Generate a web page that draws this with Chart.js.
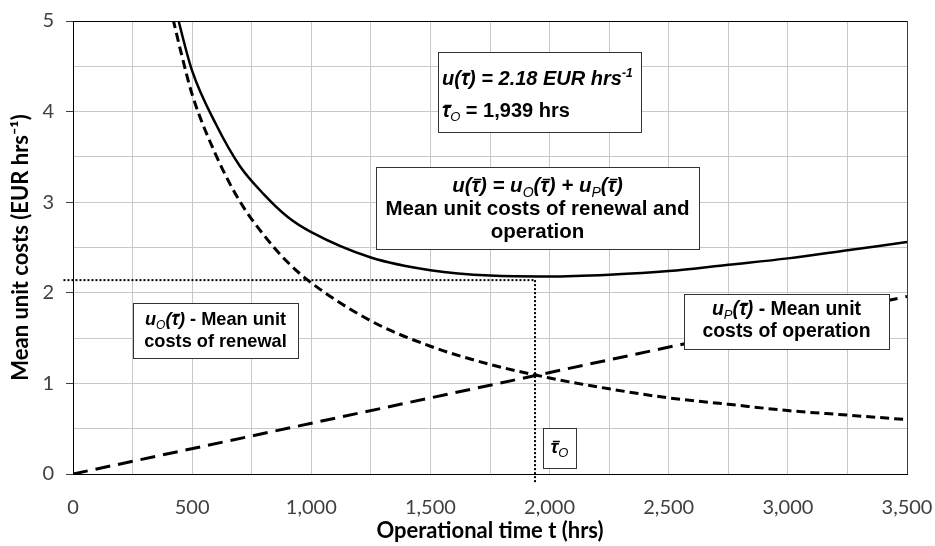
<!DOCTYPE html>
<html>
<head>
<meta charset="utf-8">
<script src="https://cdn.jsdelivr.net/npm/chart.js@4.4.1/dist/chart.umd.min.js"></script>
<style>
    body { margin: 0; background: #fff; }
</style>
</head>
<body>
<canvas id="chartCanvas" width="935" height="546"></canvas>
<script>
// operational time (hrs) for the curved series
const hours = [420, 450, 500, 600, 700, 800, 900, 1000, 1250, 1500, 1750, 2000, 2250, 2500, 2750, 3000, 3250, 3500];
// u(t) - total mean unit costs
const totalCost = [5.26, 4.93, 4.45, 3.86, 3.40, 3.09, 2.84, 2.67, 2.39, 2.25, 2.19, 2.18, 2.20, 2.24, 2.31, 2.38, 2.47, 2.56];
// uO(t) - renewal
const renewalCost = [5.02, 4.69, 4.19, 3.52, 3.01, 2.64, 2.34, 2.11, 1.69, 1.41, 1.21, 1.06, 0.94, 0.84, 0.77, 0.70, 0.65, 0.60];
// uP(t) - operation (straight line)
const operationHours = [0, 3500];
const operationCost = [0, 1.96];
// optimum marker lines
const optimumHours = 1939;
const optimumLevel = 2.14;

function toPoints(xs, ys) {
    return xs.map(function (x, i) {
        return { x: x, y: ys[i] };
    });
}

function withCommas(v) {
    return String(v).replace(/\B(?=(\d{3})+(?!\d))/g, ",");
}

function fontFor(style, size) {
    if (style === "b") return "bold " + size + "px 'Liberation Sans'";
    if (style === "bi") return "italic bold " + size + "px 'Liberation Sans'";
    if (style === "sub") return "italic " + Math.round(size * 0.66) + "px 'Liberation Sans'";
    return "italic bold " + Math.round(size * 0.6) + "px 'Liberation Sans'"; // sup
}

function shiftFor(style, size) {
    if (style === "sub") return size * 0.22;
    if (style === "sup") return -size * 0.4;
    return 0;
}

// parts: [text, style, overbar]
function drawRich(ctx, parts, x, y, align, size) {
    let w = 0;
    parts.forEach(function (p) {
        ctx.font = fontFor(p[1], size);
        w += ctx.measureText(p[0]).width;
    });
    let cx = align === "center" ? x - w / 2 : x;
    parts.forEach(function (p) {
        ctx.font = fontFor(p[1], size);
        const pw = ctx.measureText(p[0]).width;
        ctx.fillText(p[0], cx, y + shiftFor(p[1], size));
        if (p[2]) {
            const by = Math.round(y - size * 0.62) + 0.5;
            ctx.beginPath();
            ctx.lineWidth = 1.5;
            ctx.strokeStyle = "#000";
            ctx.moveTo(cx + size * 0.12, by);
            ctx.lineTo(cx + pw + size * 0.08, by);
            ctx.stroke();
        }
        cx += pw;
    });
}

const T = ["\u03C4", "bi", true];

// text boxes on the chart
const boxes = [
    { x: 438, y: 52, w: 203, h: 80, size: 20, align: "left", tx: 442, lines: [
        [85, [["u(", "bi"], T, [") = 2.18 EUR hrs", "bi"], ["-1", "sup"]]],
        [117, [T, ["O", "sub"], [" = 1,939 hrs", "b"]]]
    ] },
    { x: 376, y: 167, w: 323, h: 82, size: 20.5, align: "center", tx: 537.5, lines: [
        [192, [["u(", "bi"], T, [") = u", "bi"], ["O", "sub"], ["(", "bi"], T, [") + u", "bi"], ["P", "sub"], ["(", "bi"], T, [")", "bi"]]],
        [215, [["Mean unit costs of renewal and", "b"]]],
        [238, [["operation", "b"]]]
    ] },
    { x: 133, y: 303, w: 165, h: 55, size: 18.2, align: "center", tx: 215.5, lines: [
        [325, [["u", "bi"], ["O", "sub"], ["(", "bi"], T, [")", "bi"], [" - Mean unit", "b"]]],
        [347, [["costs of renewal", "b"]]]
    ] },
    { x: 684, y: 294, w: 205, h: 55, size: 19.4, align: "center", tx: 786.5, lines: [
        [315, [["u", "bi"], ["P", "sub"], ["(", "bi"], T, [")", "bi"], [" - Mean unit", "b"]]],
        [337, [["costs of operation", "b"]]]
    ] },
    { x: 543, y: 428, w: 33, h: 40, size: 19, align: "center", tx: 559.5, lines: [
        [453, [T, ["O", "sub"]]]
    ] }
];

const boxPlugin = {
    id: "boxes",
    afterDatasetsDraw: function (chart) {
        const ctx = chart.ctx;
        ctx.save();
        boxes.forEach(function (b) {
            ctx.fillStyle = "#fff";
            ctx.fillRect(b.x, b.y, b.w, b.h);
            ctx.strokeStyle = "#333";
            ctx.lineWidth = 1;
            ctx.strokeRect(b.x + 0.5, b.y + 0.5, b.w, b.h);
            ctx.fillStyle = "#000";
            ctx.textBaseline = "alphabetic";
            ctx.textAlign = "left";
            b.lines.forEach(function (l) {
                drawRich(ctx, l[1], b.tx, l[0], b.align, b.size);
            });
        });
        ctx.restore();
    }
};

const tickFont = { family: "Lato", size: 20 };
const titleFont = { family: "Lato", size: 22, weight: "bold" };

const ctx = document.getElementById("chartCanvas").getContext("2d");

const chart = new Chart(ctx, {
    type: "line",
    data: {
        datasets: [{
            label: "u",
            data: toPoints(hours, totalCost),
            borderColor: "#000",
            borderWidth: 2.5,
            pointRadius: 0,
            cubicInterpolationMode: "monotone"
        }, {
            label: "uO",
            data: toPoints(hours, renewalCost),
            borderColor: "#000",
            borderWidth: 3,
            borderDash: [9, 5],
            pointRadius: 0,
            cubicInterpolationMode: "monotone"
        }, {
            label: "uP",
            data: toPoints(operationHours, operationCost),
            borderColor: "#000",
            borderWidth: 3,
            borderDash: [15, 8],
            pointRadius: 0
        }, {
            label: "level",
            data: [{ x: -40, y: optimumLevel }, { x: optimumHours, y: optimumLevel }],
            borderColor: "#000",
            borderWidth: 2,
            borderDash: [2, 2],
            pointRadius: 0,
            clip: false
        }, {
            label: "optimum",
            data: [{ x: optimumHours, y: optimumLevel }, { x: optimumHours, y: -0.1 }],
            borderColor: "#000",
            borderWidth: 2,
            borderDash: [2, 2],
            pointRadius: 0,
            clip: false
        }]
    },
    options: {
        responsive: false,
        animation: false,
        layout: { padding: { left: 0, right: 28, top: 21, bottom: 0 } },
        plugins: {
            legend: { display: false },
            tooltip: { enabled: false }
        },
        scales: {
            x: {
                type: "linear",
                min: 0,
                max: 3500,
                ticks: {
                    stepSize: 250,
                    autoSkip: false,
                    maxRotation: 0,
                    color: "#404040",
                    font: tickFont,
                    padding: 22,
                    callback: function (v) {
                        return v % 500 === 0 ? withCommas(v) : "";
                    }
                },
                grid: {
                    drawTicks: false,
                    color: function (c) {
                        return c.tick && c.tick.value === 3500 ? "#404040" : "#c8c8c8";
                    }
                },
                border: { color: "#000", width: 1 },
                title: {
                    display: true,
                    text: "Operational time t (hrs)",
                    color: "#000",
                    font: titleFont,
                    padding: { top: 0, bottom: 2 }
                },
                afterFit: function (s) {
                    s.height = 72;
                    s.paddingLeft = 0;
                    s.paddingRight = 0;
                }
            },
            y: {
                min: 0,
                max: 5,
                ticks: {
                    stepSize: 0.5,
                    autoSkip: false,
                    color: "#404040",
                    font: tickFont,
                    padding: 12,
                    callback: function (v) {
                        return Number.isInteger(v) ? v : "";
                    }
                },
                grid: {
                    tickLength: 7,
                    color: function (c) {
                        return c.tick && c.tick.value === 5 ? "#000" : "#c8c8c8";
                    },
                    tickColor: function (c) {
                        return c.tick && Number.isInteger(c.tick.value) ? "#404040" : "rgba(0,0,0,0)";
                    }
                },
                border: { color: "#000", width: 1 },
                title: {
                    display: true,
                    text: "Mean unit costs (EUR hrs\u207B\u00B9)",
                    color: "#000",
                    font: titleFont,
                    padding: { top: 8, bottom: 0 }
                },
                afterFit: function (s) {
                    s.width = 73;
                    s.paddingTop = 0;
                    s.paddingBottom = 0;
                }
            }
        }
    },
    plugins: [boxPlugin]
});
</script>
</body>
</html>
